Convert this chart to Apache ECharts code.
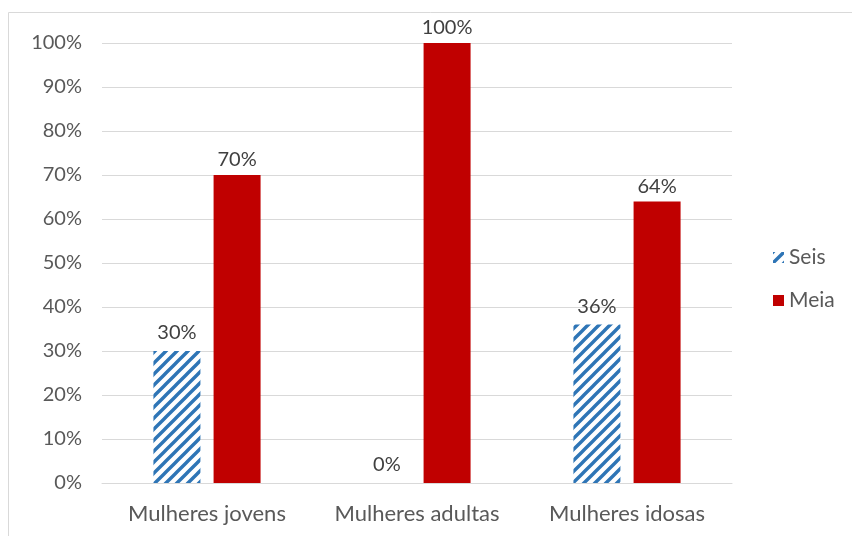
<!DOCTYPE html>
<html>
<head>
<meta charset="utf-8">
<script src="https://cdn.jsdelivr.net/npm/echarts@6/dist/echarts.min.js"></script>
<style>
html,body{margin:0;padding:0;background:#fff;}
#chart{width:852px;height:536px;}
</style>
</head>
<body>
<div id="chart"></div>
<script>
const categories = ['Mulheres jovens', 'Mulheres adultas', 'Mulheres idosas'];
const seis = [30, 0, 36];
const meia = [70, 100, 64];
const yTicks = [0, 10, 20, 30, 40, 50, 60, 70, 80, 90, 100];

// diagonal blue hatch used for the "Seis" bars
function hatch() {
  const c = document.createElement('canvas');
  const s = 11;
  c.width = s; c.height = s;
  const g = c.getContext('2d');
  g.fillStyle = '#ffffff';
  g.fillRect(0, 0, s, s);
  g.strokeStyle = '#2E75B6';
  g.lineWidth = 3.4;
  g.beginPath();
  g.moveTo(-3, s + 3); g.lineTo(s + 3, -3);
  g.moveTo(-3, 3); g.lineTo(3, -3);
  g.moveTo(s - 3, s + 3); g.lineTo(s + 3, s - 3);
  g.stroke();
  return c;
}

const font = 'Lato, "Open Sans", sans-serif';
const chart = echarts.init(document.getElementById('chart'));
const labelStyle = {
  show: true, position: 'top', distance: 8,
  formatter: p => p.value + '%',
  color: '#404040', fontSize: 20, fontFamily: font
};
chart.setOption({
  animation: false,
  graphic: [{
    type: 'rect', shape: { x: 8.5, y: 12.5, width: 860, height: 540 },
    style: { fill: 'none', stroke: '#d9d9d9', lineWidth: 1 }, z: -1
  }],
  grid: { left: 102, right: 120, top: 43, bottom: 53 },
  legend: {
    orient: 'vertical', left: 768, top: 242, itemGap: 22,
    itemWidth: 11, itemHeight: 11,
    textStyle: { color: '#595959', fontSize: 21, fontFamily: font },
    data: [
      { name: 'Seis', icon: 'rect', itemStyle: { color: { image: hatch(), repeat: 'repeat' } } },
      { name: 'Meia', icon: 'rect' }
    ]
  },
  xAxis: {
    type: 'category', data: categories,
    axisLine: { lineStyle: { color: '#d9d9d9', width: 1 } },
    axisTick: { show: false },
    axisLabel: { color: '#595959', fontSize: 22, fontFamily: font, margin: 20, interval: 0 }
  },
  yAxis: {
    type: 'value', min: yTicks[0], max: yTicks[yTicks.length - 1], interval: 10,
    axisLine: { show: false }, axisTick: { show: false },
    splitLine: { lineStyle: { color: '#d9d9d9', width: 1 } },
    axisLabel: { color: '#595959', fontSize: 20, fontFamily: font, margin: 20, formatter: v => v + '%' }
  },
  series: [
    {
      name: 'Seis', type: 'bar', data: seis, barWidth: 47, barGap: '28%',
      itemStyle: { color: { image: hatch(), repeat: 'repeat' } },
      label: labelStyle
    },
    {
      name: 'Meia', type: 'bar', data: meia, barWidth: 47,
      itemStyle: { color: '#C00000' },
      label: Object.assign({}, labelStyle, { distance: 5 })
    }
  ]
});
</script>
</body>
</html>
